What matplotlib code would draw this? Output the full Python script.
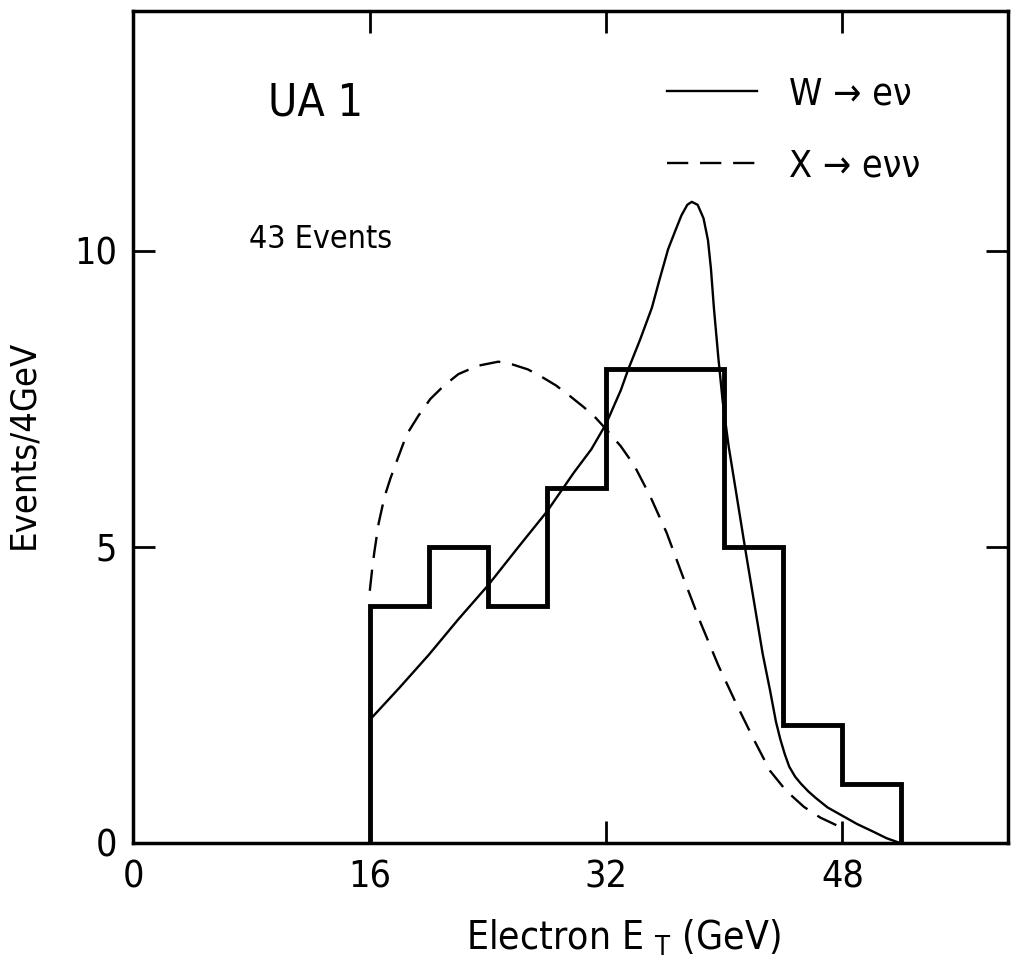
import matplotlib
matplotlib.use("Agg")
import matplotlib.pyplot as plt

plt.rcParams['font.family'] = ['DejaVu Sans']
plt.rcParams['font.stretch'] = 'condensed'

# histogram of 43 events, 4 GeV bins
bin_edges = [16, 20, 24, 28, 32, 36, 40, 44, 48, 52]
counts = [4, 5, 4, 6, 8, 8, 5, 2, 1]

# W -> e nu expectation
w_x = [16.0, 18.0, 20.0, 22.0, 24.0, 26.0, 28.0, 29.8, 31.0, 32.0, 33.0, 33.5, 34.3,
       35.1, 35.6, 36.2, 36.7, 37.1, 37.5, 37.8, 38.2, 38.6, 38.9, 39.1, 39.3, 39.6,
       39.9, 40.3, 40.8, 41.4, 41.8, 42.2, 42.6, 43.1, 43.5, 43.8, 44.1, 44.4, 44.8,
       45.2, 45.7, 46.2, 47.0, 48.0, 49.0, 50.1, 51.0, 51.9]
w_y = [2.08, 2.62, 3.18, 3.78, 4.35, 4.98, 5.6, 6.25, 6.65, 7.08, 7.65, 8.0, 8.5,
       9.04, 9.5, 10.03, 10.35, 10.6, 10.78, 10.83, 10.78, 10.55, 10.18, 9.7, 9.04, 8.2,
       7.45, 6.7, 5.93, 5.0, 4.4, 3.8, 3.2, 2.58, 2.05, 1.75, 1.5, 1.29, 1.12,
       1.0, 0.87, 0.76, 0.6, 0.46, 0.32, 0.19, 0.08, 0.0]

# X -> e nu nu expectation
x_x = [16.0, 16.15, 16.3, 16.6, 17.0, 17.4, 17.9, 18.5, 19.3, 20.1, 21.0, 22.0, 23.3,
       24.7, 25.7, 26.7, 27.6, 28.6, 29.5, 30.5, 31.3, 32.0, 33.0, 33.9, 35.0, 36.1,
       37.2, 38.4, 39.6, 40.8, 42.0, 43.1, 44.2, 45.4, 46.5, 47.6, 48.0]
x_y = [4.26, 4.6, 4.9, 5.4, 5.85, 6.16, 6.5, 6.9, 7.22, 7.5, 7.72, 7.92, 8.06,
       8.13, 8.08, 8.0, 7.88, 7.73, 7.56, 7.36, 7.18, 6.99, 6.7, 6.38, 5.85, 5.24,
       4.5, 3.72, 3.0, 2.36, 1.75, 1.22, 0.88, 0.61, 0.43, 0.30, 0.27]

fig = plt.figure(figsize=(10.19, 9.74), dpi=100)
ax = fig.add_axes([0.131, 0.1345, 0.858, 0.854])

ax.stairs(counts, bin_edges, baseline=0, color='black', linewidth=3.5)
w_line, = ax.plot(w_x, w_y, color='black', linewidth=1.7)
x_line, = ax.plot(x_x, x_y, color='black', linewidth=1.7, linestyle=(0, (9, 5)))

ax.set_xlim(0, 59.2)
ax.set_ylim(0, 14.05)
ax.set_xticks([0, 16, 32, 48])
ax.set_yticks([0, 5, 10])
ax.tick_params(direction='in', length=16, width=2, top=True, right=True,
               labelsize=27, pad=12)
for s in ax.spines.values():
    s.set_linewidth(2.5)

ax.set_xlabel('Electron E $_\\mathregular{T}$ (GeV)', fontsize=28)
ax.xaxis.set_label_coords(0.56, -0.09)
ax.set_ylabel('Events/4GeV', fontsize=26)
ax.yaxis.set_label_coords(-0.107, 0.479)

ax.text(9.1, 12.5, 'UA 1', fontsize=32, va='center', ha='left')
ax.text(7.8, 10.2, '43 Events', fontsize=23, va='center', ha='left')

ax.legend([w_line, x_line], ['W → eν', 'X → eνν'], loc='upper left',
          bbox_to_anchor=(0.572, 0.962), frameon=False, fontsize=27,
          handlelength=2.4, handletextpad=0.85, labelspacing=0.95)

fig.savefig('out.png', dpi=100)
